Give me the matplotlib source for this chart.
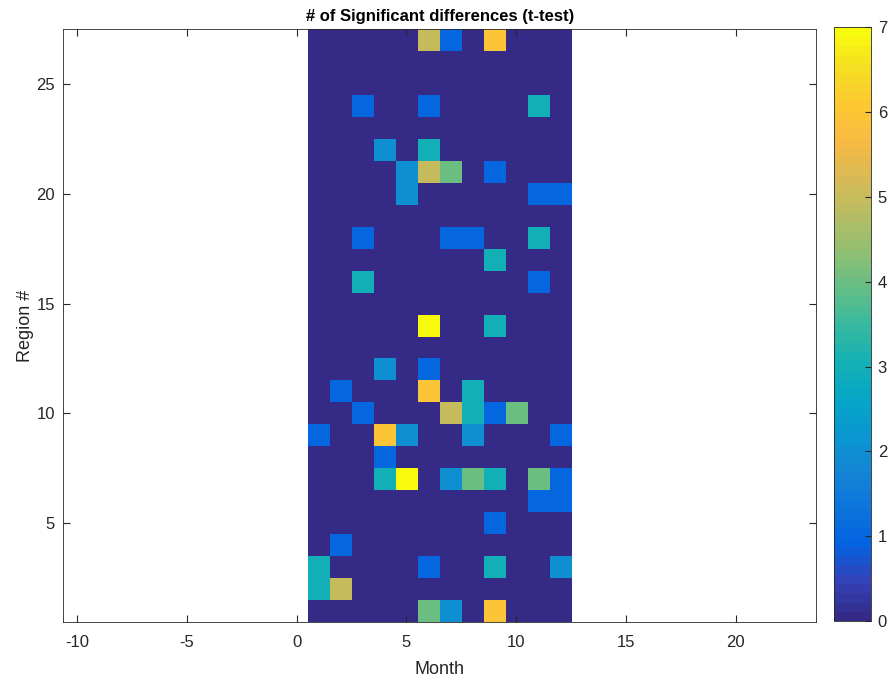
import numpy as np
import matplotlib
matplotlib.use("Agg")
import matplotlib.pyplot as plt
from matplotlib.colors import LinearSegmentedColormap

plt.rcParams['font.family'] = ['Liberation Sans', 'DejaVu Sans']
plt.rcParams['axes.unicode_minus'] = False

# months 1..12 (columns), regions 1..27 (rows, bottom to top)
months = list(range(1, 13))
regions = list(range(1, 28))

# counts of significant differences, row index = region - 1
sig_counts = [
    [0, 0, 0, 0, 0, 4, 2, 0, 6, 0, 0, 0],  # 1
    [3, 5, 0, 0, 0, 0, 0, 0, 0, 0, 0, 0],  # 2
    [3, 0, 0, 0, 0, 1, 0, 0, 3, 0, 0, 2],  # 3
    [0, 1, 0, 0, 0, 0, 0, 0, 0, 0, 0, 0],  # 4
    [0, 0, 0, 0, 0, 0, 0, 0, 1, 0, 0, 0],  # 5
    [0, 0, 0, 0, 0, 0, 0, 0, 0, 0, 1, 1],  # 6
    [0, 0, 0, 3, 7, 0, 2, 4, 3, 0, 4, 1],  # 7
    [0, 0, 0, 1, 0, 0, 0, 0, 0, 0, 0, 0],  # 8
    [1, 0, 0, 6, 2, 0, 0, 2, 0, 0, 0, 1],  # 9
    [0, 0, 1, 0, 0, 0, 5, 3, 1, 4, 0, 0],  # 10
    [0, 1, 0, 0, 0, 6, 0, 3, 0, 0, 0, 0],  # 11
    [0, 0, 0, 2, 0, 1, 0, 0, 0, 0, 0, 0],  # 12
    [0, 0, 0, 0, 0, 0, 0, 0, 0, 0, 0, 0],  # 13
    [0, 0, 0, 0, 0, 7, 0, 0, 3, 0, 0, 0],  # 14
    [0, 0, 0, 0, 0, 0, 0, 0, 0, 0, 0, 0],  # 15
    [0, 0, 3, 0, 0, 0, 0, 0, 0, 0, 1, 0],  # 16
    [0, 0, 0, 0, 0, 0, 0, 0, 3, 0, 0, 0],  # 17
    [0, 0, 1, 0, 0, 0, 1, 1, 0, 0, 3, 0],  # 18
    [0, 0, 0, 0, 0, 0, 0, 0, 0, 0, 0, 0],  # 19
    [0, 0, 0, 0, 2, 0, 0, 0, 0, 0, 1, 1],  # 20
    [0, 0, 0, 0, 2, 5, 4, 0, 1, 0, 0, 0],  # 21
    [0, 0, 0, 2, 0, 3, 0, 0, 0, 0, 0, 0],  # 22
    [0, 0, 0, 0, 0, 0, 0, 0, 0, 0, 0, 0],  # 23
    [0, 0, 1, 0, 0, 1, 0, 0, 0, 0, 3, 0],  # 24
    [0, 0, 0, 0, 0, 0, 0, 0, 0, 0, 0, 0],  # 25
    [0, 0, 0, 0, 0, 0, 0, 0, 0, 0, 0, 0],  # 26
    [0, 0, 0, 0, 0, 5, 1, 0, 6, 0, 0, 0],  # 27
]

# MATLAB parula (sampled)
parula_pts = [
    (0.2081, 0.1663, 0.5292), (0.1959, 0.2645, 0.7279), (0.0117, 0.3875, 0.8820),
    (0.0498, 0.4586, 0.8641), (0.0793, 0.5200, 0.8312), (0.0343, 0.5966, 0.8199),
    (0.0228, 0.6535, 0.7768), (0.0843, 0.6928, 0.7062), (0.2178, 0.7250, 0.6193),
    (0.3953, 0.7459, 0.5244), (0.5709, 0.7485, 0.4494), (0.7184, 0.7411, 0.3905),
    (0.8507, 0.7299, 0.3360), (0.9739, 0.7314, 0.2666), (0.9955, 0.7861, 0.1967),
    (0.9626, 0.8705, 0.1309), (0.9763, 0.9831, 0.0538),
]
parula = LinearSegmentedColormap.from_list("parula", parula_pts, N=64)

fig = plt.figure(figsize=(8.9, 6.81), dpi=100)
ax = fig.add_axes([0.0711, 0.0866, 0.8458, 0.8703])
cax = fig.add_axes([0.9371, 0.0880, 0.0413, 0.8720])

data = np.array(sig_counts)
im = ax.imshow(data, origin='lower', cmap=parula, vmin=0, vmax=7,
               extent=(months[0] - 0.5, months[-1] + 0.5, regions[0] - 0.5, regions[-1] + 0.5),
               interpolation='nearest', aspect='auto')

ax.set_xlim(-10.64, 23.67)
ax.set_ylim(0.5, 27.5)
ax.set_xticks([-10, -5, 0, 5, 10, 15, 20])
ax.set_yticks([5, 10, 15, 20, 25])
ax.tick_params(direction='in', top=True, right=True, labelsize=12, colors='0.15', length=5)
ax.tick_params(axis='x', pad=9)
ax.tick_params(axis='y', pad=6)
for s in ax.spines.values():
    s.set_color('0.15')
    s.set_linewidth(0.6)
ax.set_xlabel("Month", fontsize=13, color='0.15', labelpad=8)
ax.set_ylabel("Region #", fontsize=13, color='0.15', labelpad=2)
ax.set_title("# of Significant differences (t-test)", fontsize=12, fontweight='bold', pad=6)

cb = fig.colorbar(im, cax=cax, ticks=range(0, 8))
cb.ax.tick_params(direction='in', labelsize=12, length=4, colors='0.15', pad=5)
cb.outline.set_linewidth(0.6)
cb.outline.set_edgecolor('0.15')

fig.savefig("out.png", dpi=100)
